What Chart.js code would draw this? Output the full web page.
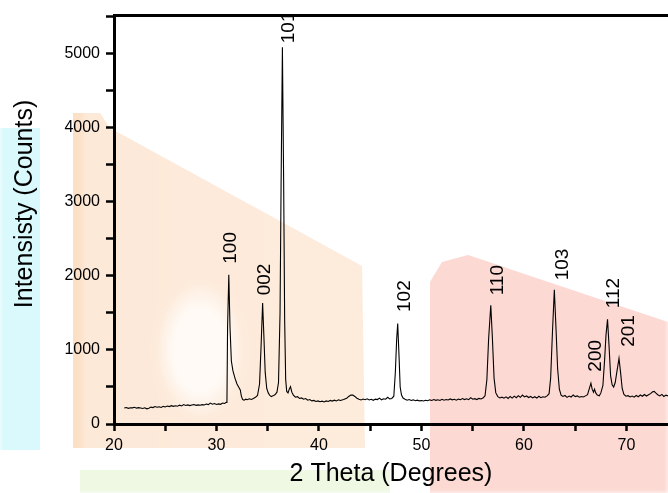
<!DOCTYPE html>
<html lang="en">
<head>
  <meta charset="UTF-8" />
  <title>XRD pattern</title>
  <script src="https://cdn.jsdelivr.net/npm/chart.js"></script>
  <style>
    html, body { margin: 0; padding: 0; background: #fff; overflow: hidden; }
    #wrap { position: relative; width: 668px; height: 493px; }
    .wm { position: absolute; left: 0; top: 0; width: 668px; height: 493px; filter: blur(2px); }
    #cyan { background: #d9f9fc; clip-path: polygon(0px 128px, 40px 128px, 40px 450px, 0px 450px); }
    #peach {
      background: radial-gradient(ellipse 45px 70px at 200px 350px, #fffaf5 60%, rgba(255,250,245,0) 100%),
                  linear-gradient(90deg, #fbe0c6 0px, #fbe0c6 80px, #fde9d8 84px, #fdebdc 290px);
      background-repeat: no-repeat;
      clip-path: polygon(73px 113px, 100px 113px, 110px 128px, 362px 266px, 365px 448px, 73px 448px);
    }
    #pink { background: #fcd9d3; clip-path: polygon(430px 282px, 442px 262px, 468px 255px, 668px 322px, 668px 493px, 430px 493px); }
    #green { background: #eff8e2; clip-path: polygon(80px 470px, 390px 470px, 390px 493px, 80px 493px); }
    canvas { position: absolute; left: 0; top: 0; }
  </style>
</head>
<body>
  <div id="wrap">
    <div class="wm" id="cyan"></div>
    <div class="wm" id="peach"></div>
    <div class="wm" id="pink"></div>
    <div class="wm" id="green"></div>
    <canvas id="xrd" width="668" height="493"></canvas>
  </div>

  <script>
    // diffraction pattern
    const twoTheta = [
      21.0, 21.2, 21.4, 21.6, 21.8, 22.0, 22.2, 22.4, 22.6, 22.8,
      23.0, 23.2, 23.4, 23.6, 23.8, 24.0, 24.2, 24.4, 24.6, 24.8,
      25.0, 25.2, 25.4, 25.6, 25.8, 26.0, 26.2, 26.4, 26.6, 26.8,
      27.0, 27.2, 27.4, 27.6, 27.8, 28.0, 28.2, 28.4, 28.6, 28.8,
      29.0, 29.2, 29.4, 29.6, 29.8, 30.0, 30.2, 30.4, 30.6, 30.8,
      30.95, 31.02, 31.08, 31.2, 31.32, 31.45, 31.6, 31.8, 32.0, 32.2,
      32.32, 32.42, 32.55, 32.7, 32.85, 33.0, 33.2, 33.4, 33.6, 33.8,
      34.0, 34.2, 34.35, 34.5, 34.62, 34.75, 34.9, 35.05, 35.2, 35.35,
      35.5, 35.7, 35.9, 36.05, 36.2, 36.3, 36.43, 36.55, 36.65, 36.75,
      36.85, 36.98, 37.1, 37.22, 37.35, 37.5, 37.7, 37.9, 38.1, 38.3,
      38.5, 38.7, 38.9, 39.1, 39.3, 39.5, 39.7, 39.9, 40.1, 40.3,
      40.5, 40.7, 40.9, 41.1, 41.3, 41.5, 41.7, 41.9, 42.1, 42.4,
      42.7, 42.9, 43.1, 43.3, 43.5, 43.7, 43.9, 44.1, 44.3, 44.5,
      44.7, 44.9, 45.1, 45.3, 45.5, 45.7, 45.9, 46.1, 46.3, 46.5,
      46.7, 46.9, 47.1, 47.3, 47.45, 47.58, 47.68, 47.8, 47.92, 48.05,
      48.2, 48.4, 48.6, 48.8, 49.0, 49.2, 49.4, 49.6, 49.8, 50.0,
      50.2, 50.4, 50.6, 50.8, 51.0, 51.2, 51.4, 51.6, 51.8, 52.0,
      52.2, 52.4, 52.6, 52.8, 53.0, 53.2, 53.4, 53.6, 53.8, 54.0,
      54.2, 54.4, 54.6, 54.8, 55.0, 55.2, 55.4, 55.6, 55.8, 56.0,
      56.2, 56.38, 56.55, 56.76, 56.92, 57.08, 57.25, 57.45, 57.65, 57.85,
      58.05, 58.25, 58.45, 58.65, 58.85, 59.05, 59.25, 59.45, 59.65, 59.85,
      60.05, 60.25, 60.45, 60.65, 60.85, 61.05, 61.25, 61.45, 61.65, 61.85,
      62.05, 62.25, 62.45, 62.6, 62.78, 62.96, 63.12, 63.28, 63.45, 63.62,
      63.8, 64.0, 64.2, 64.4, 64.6, 64.8, 65.0, 65.2, 65.4, 65.6,
      65.8, 66.0, 66.2, 66.38, 66.53, 66.65, 66.78, 66.88, 67.0, 67.15,
      67.35, 67.5, 67.7, 67.88, 68.0, 68.15, 68.3, 68.45, 68.6, 68.75,
      68.9, 69.08, 69.27, 69.42, 69.58, 69.75, 69.95, 70.15, 70.35, 70.55,
      70.75, 70.95, 71.15, 71.35, 71.55, 71.75, 71.95, 72.15, 72.35, 72.55,
      72.7, 72.85, 73.05, 73.25, 73.45, 73.65, 73.85, 74.05
    ];
    const counts = [
      215, 222, 212, 220, 218, 226, 214, 221, 216, 210,
      219, 205, 214, 228, 222, 236, 226, 232, 224, 238,
      230, 242, 235, 248, 238, 246, 240, 255, 244, 262,
      250, 258, 248, 256, 262, 252, 258, 254, 262, 256,
      270, 262, 282, 268, 276, 264, 272, 266, 284, 278,
      292, 300, 1300, 2016, 1300, 850, 720, 620, 540, 490,
      460, 380, 330, 322, 335, 328, 340, 332, 345, 360,
      385, 540, 1050, 1635, 1200, 700, 480, 420, 385, 370,
      380, 395, 430, 560, 1500, 3200, 5089, 3300, 1400, 600,
      440, 420, 470, 505, 430, 390, 362, 370, 345, 352,
      335, 344, 322, 330, 312, 318, 305, 312, 300, 308,
      298, 312, 305, 318, 310, 322, 312, 326, 318, 330,
      348, 372, 390, 392, 372, 348, 335, 325, 338, 328,
      340, 325, 333, 320, 336, 330, 350, 326, 340, 334,
      360, 338, 345, 375, 700, 1150, 1357, 950, 500, 390,
      350, 335, 322, 330, 318, 326, 315, 322, 312, 318,
      310, 320, 314, 326, 318, 330, 320, 328, 318, 334,
      322, 330, 324, 338, 326, 334, 322, 336, 328, 344,
      330, 340, 328, 356, 334, 342, 330, 346, 338, 352,
      380, 600, 1150, 1603, 1150, 620, 420, 370, 352, 362,
      348, 366, 345, 372, 350, 376, 355, 382, 360, 390,
      365, 378, 358, 372, 352, 368, 350, 374, 356, 368,
      362, 380, 410, 620, 1250, 1814, 1300, 750, 470, 390,
      372, 385, 360, 378, 365, 392, 370, 380, 362, 372,
      365, 380, 395, 480, 551, 470, 430, 470, 420, 390,
      380, 420, 520, 900, 1200, 1415, 1050, 650, 530, 500,
      560, 720, 887, 700, 480, 400, 375, 382, 365, 378,
      362, 385, 368, 392, 375, 398, 378, 395, 410, 435,
      440, 420, 395, 380, 400, 372, 390, 380
    ];

    // (hkl) labels and where each one starts (bottom of the rotated text)
    const hklLabels = ['100', '002', '101', '102', '110', '103', '200', '112', '201'];
    const hklTheta  = [31.35, 34.70, 37.04, 48.41, 57.47, 63.82, 66.96, 68.78, 70.24];
    const hklCount  = [2164, 1738, 5142, 1513, 1738, 1940, 707, 1563, 1043];

    const xTicks = [20, 25, 30, 35, 40, 45, 50, 55, 60, 65, 70];
    const yTicks = [0, 500, 1000, 1500, 2000, 2500, 3000, 3500, 4000, 4500, 5000, 5500];
    const xRange = [20, 74.05];
    const yRange = [0, 5515];

    const fontFamily = "'Liberation Sans', Arial, Helvetica, sans-serif";

    const points = twoTheta.map((t, i) => ({ x: t, y: counts[i] }));

    const hklPlugin = {
      id: 'hkl',
      afterDatasetsDraw(chart) {
        const { ctx, scales, chartArea } = chart;
        ctx.save();
        // labels are cut at the plot frame, like the "101" in the original
        ctx.beginPath();
        ctx.rect(chartArea.left, chartArea.top, chartArea.right - chartArea.left, chartArea.bottom - chartArea.top);
        ctx.clip();
        ctx.fillStyle = '#000';
        ctx.font = '19px ' + fontFamily;
        ctx.textAlign = 'left';
        ctx.textBaseline = 'middle';
        hklLabels.forEach((txt, i) => {
          const px = scales.x.getPixelForValue(hklTheta[i]);
          const py = scales.y.getPixelForValue(hklCount[i]);
          ctx.save();
          ctx.translate(px, py);
          ctx.rotate(-Math.PI / 2);
          ctx.fillText(txt, 0, 0);
          ctx.restore();
        });
        ctx.restore();
      },
      afterDraw(chart) {
        // y axis title, placed as in the original figure
        const { ctx } = chart;
        ctx.save();
        ctx.fillStyle = '#000';
        ctx.font = '25px ' + fontFamily;
        ctx.textAlign = 'center';
        ctx.textBaseline = 'middle';
        ctx.translate(25, 204);
        ctx.rotate(-Math.PI / 2);
        ctx.fillText('Intensisty (Counts)', 0, 0);
        ctx.restore();
      }
    };

    new Chart(document.getElementById('xrd'), {
      type: 'line',
      data: {
        datasets: [{
          data: points,
          borderColor: '#000',
          borderWidth: 1.1,
          pointRadius: 0,
          tension: 0,
          fill: false
        }]
      },
      options: {
        responsive: false,
        animation: false,
        events: [],
        layout: { padding: 0 },
        plugins: { legend: { display: false }, tooltip: { enabled: false } },
        scales: {
          x: {
            type: 'linear',
            position: 'bottom',
            min: xRange[0],
            max: xRange[1],
            afterBuildTicks: (axis) => { axis.ticks = xTicks.map(v => ({ value: v })); },
            afterFit: (axis) => { axis.height = 69; },
            grid: { drawOnChartArea: false, tickLength: 7, tickWidth: 2.5, tickColor: '#000' },
            border: { color: '#000', width: 3 },
            ticks: {
              color: '#000',
              font: { family: fontFamily, size: 16 },
              padding: 5,
              maxRotation: 0,
              autoSkip: false,
              callback: (v) => (v % 10 === 0 ? String(v) : '')
            },
            title: {
              display: true,
              text: '2 Theta (Degrees)',
              color: '#000',
              font: { family: fontFamily, size: 25 },
              padding: { top: 0, bottom: 4 }
            }
          },
          xTop: {
            type: 'linear',
            position: 'top',
            min: xRange[0],
            max: xRange[1],
            z: 1,
            afterFit: (axis) => { axis.height = 14; },
            grid: { drawOnChartArea: false, drawTicks: false },
            border: { color: '#000', width: 3 },
            ticks: { display: false }
          },
          y: {
            min: yRange[0],
            max: yRange[1],
            afterBuildTicks: (axis) => { axis.ticks = yTicks.map(v => ({ value: v })); },
            afterFit: (axis) => { axis.width = 114; },
            grid: { drawOnChartArea: false, tickLength: 8, tickWidth: 2.5, tickColor: '#000' },
            border: { color: '#000', width: 3 },
            ticks: {
              color: '#000',
              font: { family: fontFamily, size: 16 },
              padding: 6,
              autoSkip: false,
              callback: (v) => (v % 1000 === 0 ? String(v) : '')
            }
          }
        }
      },
      plugins: [hklPlugin]
    });
  </script>
</body>
</html>
